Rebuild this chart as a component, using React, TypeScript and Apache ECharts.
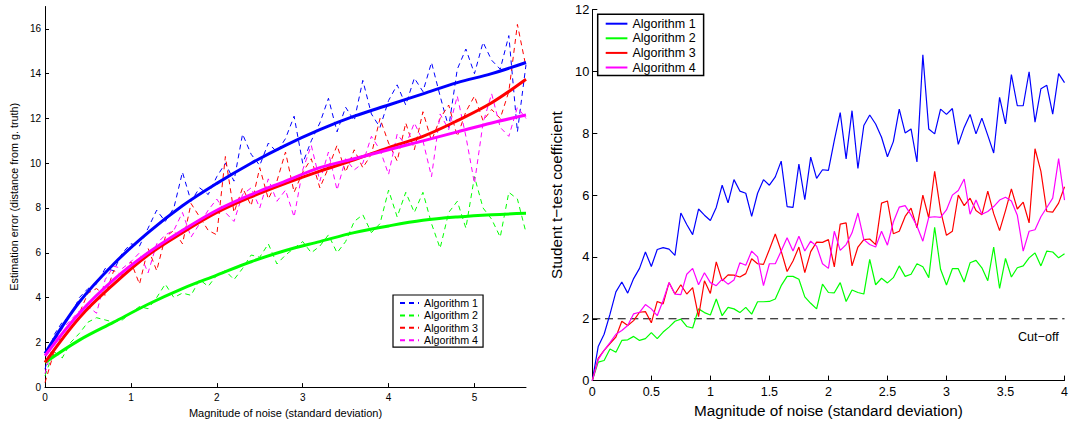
import React, { useEffect, useRef } from "react";
import * as echarts from "echarts";

const FONT = "'Liberation Sans', Arial, Helvetica, sans-serif";
const COLORS = ["#0000ff", "#00ff00", "#ff0000", "#ff00ff"];
const ALG_NAMES = ["Algorithm 1", "Algorithm 2", "Algorithm 3", "Algorithm 4"];

// ---------- Left panel: estimation error vs noise ----------
const LEFT_X_STEP = 0.1; // noise sampling of the raw (dashed) curves
const alg1Err = [0.8, 2.3, 2.9, 3.2, 4.0, 4.4, 4.6, 5.3, 5.2, 6.0, 6.4, 6.3, 7.1, 7.9, 7.4, 8.0, 9.6, 8.3, 8.9, 8.6, 9.4, 10.0, 9.2, 11.3, 10.4, 9.9, 10.9, 10.5, 11.1, 12.1, 10.0, 11.0, 11.8, 12.9, 11.4, 12.5, 11.9, 13.7, 12.2, 11.6, 12.8, 13.5, 12.6, 13.8, 13.2, 14.5, 13.0, 11.6, 14.2, 15.1, 14.0, 15.4, 14.6, 14.2, 15.7, 11.4, 14.4];
const alg2Err = [0.5, 1.6, 1.3, 2.0, 2.4, 2.9, 3.1, 3.0, 2.9, 3.0, 3.3, 3.6, 3.5, 4.0, 4.6, 4.0, 4.2, 4.1, 4.8, 4.5, 5.0, 5.2, 4.8, 5.3, 5.9, 5.8, 6.4, 5.5, 5.9, 6.2, 6.5, 6.0, 6.3, 6.8, 6.0, 6.5, 7.4, 7.7, 6.9, 7.3, 8.8, 7.6, 8.7, 7.8, 8.7, 7.3, 6.2, 7.8, 8.3, 7.1, 9.4, 8.0, 7.5, 6.7, 8.7, 8.4, 6.9];
const alg3Err = [0.2, 1.5, 2.4, 2.9, 3.3, 4.2, 4.4, 4.1, 5.2, 5.0, 5.6, 4.6, 6.2, 5.2, 6.7, 7.0, 6.4, 8.2, 7.6, 7.0, 6.8, 10.3, 7.8, 8.9, 8.1, 9.8, 8.4, 9.2, 10.5, 8.7, 9.6, 10.2, 8.9, 9.8, 10.8, 9.6, 10.6, 9.8, 10.4, 12.0, 10.9, 10.1, 11.8, 10.6, 12.3, 11.0, 12.0, 12.6, 11.2, 12.3, 13.0, 11.9, 12.4, 12.0, 13.2, 16.2, 14.3];
const alg4Err = [0.6, 2.0, 2.6, 3.0, 3.4, 3.6, 3.3, 4.8, 5.4, 5.3, 5.6, 6.0, 5.1, 6.4, 6.8, 7.0, 7.8, 6.7, 7.3, 7.9, 8.4, 7.8, 7.4, 8.6, 8.9, 8.0, 9.3, 8.3, 8.8, 7.6, 9.7, 10.8, 9.2, 10.5, 8.8, 10.2, 9.7, 10.0, 11.2, 10.6, 9.5, 11.3, 10.8, 11.8, 11.0, 9.4, 12.2, 11.5, 13.0, 11.2, 9.1, 11.8, 13.1, 11.6, 11.2, 12.5, 12.0];

const FIT_X_STEP = 0.4; // knots of the smooth fitted curves
const alg1Fit = [1.5, 3.8, 5.5, 6.9, 8.1, 9.1, 10.0, 10.8, 11.5, 12.1, 12.6, 13.1, 13.6, 14.0, 14.5];
const alg2Fit = [1.1, 2.1, 2.9, 3.7, 4.4, 5.0, 5.6, 6.1, 6.5, 6.9, 7.2, 7.45, 7.6, 7.7, 7.76];
const alg3Fit = [1.1, 3.1, 4.6, 5.9, 6.9, 7.8, 8.5, 9.1, 9.65, 10.15, 10.7, 11.2, 11.9, 12.7, 13.75];
const alg4Fit = [1.4, 3.3, 4.8, 6.0, 7.0, 7.9, 8.6, 9.2, 9.8, 10.2, 10.6, 11.0, 11.4, 11.8, 12.15];

const leftXTicks = [0, 1, 2, 3, 4, 5];
const leftYTicks = [0, 2, 4, 6, 8, 10, 12, 14, 16];

// ---------- Right panel: Student t-test coefficient ----------
const RIGHT_X_STEP = 0.05;
const alg1T = [0, 1.1, 1.5, 2.15, 2.87, 3.19, 2.83, 3.3, 3.63, 4.16, 3.69, 4.24, 4.3, 4.25, 4.05, 5.42, 5.05, 4.72, 5.55, 5.35, 5.18, 5.6, 6.32, 5.75, 6.5, 6.13, 6.06, 5.31, 6.06, 6.5, 6.32, 6.59, 7.1, 5.63, 5.6, 7.0, 5.85, 7.23, 6.54, 6.82, 6.8, 7.77, 8.67, 7.17, 8.73, 6.86, 8.25, 8.59, 8.3, 7.87, 7.24, 7.73, 8.78, 8.01, 8.14, 7.07, 10.54, 8.14, 7.98, 8.78, 8.61, 8.8, 7.64, 8.19, 8.61, 7.98, 8.49, 7.93, 7.36, 9.16, 8.3, 9.9, 8.89, 8.89, 9.99, 8.36, 9.44, 9.55, 8.62, 9.93, 9.64];
const alg2T = [0, 0.6, 0.65, 1.02, 0.92, 1.3, 1.32, 1.43, 1.3, 1.36, 1.55, 1.36, 1.57, 1.73, 1.92, 1.99, 1.75, 1.7, 2.32, 2.2, 2.12, 2.64, 2.1, 2.37, 2.32, 2.2, 2.37, 2.15, 2.55, 2.55, 2.56, 2.64, 3.07, 3.37, 3.37, 3.28, 2.71, 2.5, 2.32, 3.12, 2.85, 2.84, 3.17, 2.56, 2.93, 2.85, 2.8, 3.92, 3.1, 3.31, 3.16, 3.33, 3.71, 3.37, 3.44, 3.78, 3.68, 3.33, 4.96, 3.6, 3.09, 3.62, 3.62, 3.19, 3.81, 3.89, 3.65, 3.23, 4.32, 2.98, 3.95, 3.35, 3.65, 3.71, 3.97, 4.13, 3.71, 4.19, 4.16, 3.97, 4.1];
const alg3T = [0, 0.72, 0.98, 1.2, 1.41, 1.92, 1.78, 1.94, 2.21, 2.23, 1.87, 2.56, 2.48, 3.17, 2.8, 3.1, 2.8, 3.01, 2.07, 3.23, 2.82, 3.84, 3.23, 3.42, 3.41, 3.35, 3.46, 3.94, 3.78, 3.76, 4.24, 4.74, 4.19, 3.53, 3.87, 4.32, 3.49, 4.17, 4.48, 4.47, 4.56, 3.68, 5.06, 5.1, 3.71, 4.32, 4.56, 4.58, 4.4, 5.74, 5.81, 4.75, 4.83, 5.31, 5.58, 4.94, 6.0, 5.26, 6.77, 5.5, 4.7, 4.83, 6.0, 5.66, 5.9, 5.5, 5.36, 6.13, 5.4, 4.85, 5.5, 6.2, 5.55, 5.77, 5.1, 7.5, 6.77, 5.47, 5.45, 5.74, 6.27];
const alg4T = [0, 0.68, 0.98, 1.23, 1.5, 1.62, 1.78, 2.16, 2.21, 2.46, 2.32, 2.1, 2.59, 3.17, 2.8, 2.78, 3.44, 3.63, 3.1, 3.49, 3.17, 3.07, 3.28, 3.12, 3.25, 3.81, 3.73, 4.19, 4.0, 3.07, 3.78, 3.78, 4.19, 4.62, 4.19, 4.67, 4.19, 4.51, 4.35, 3.78, 3.63, 4.83, 4.21, 4.4, 4.78, 5.42, 4.56, 4.4, 4.32, 4.83, 4.38, 5.13, 5.61, 5.66, 5.36, 5.0, 4.51, 5.28, 5.3, 5.28, 5.52, 6.0, 6.15, 6.52, 5.38, 5.84, 5.38, 5.47, 5.63, 5.84, 5.93, 5.81, 5.35, 4.19, 4.83, 4.88, 5.3, 5.6, 5.9, 7.18, 5.84];
const cutoffX = [0, 4];
const CUTOFF = 2;
const CUTOFF_LABEL = "Cut\u2212off";

const rightXTicks = [0, 0.5, 1, 1.5, 2, 2.5, 3, 3.5, 4];
const rightYTicks = [0, 2, 4, 6, 8, 10, 12];

const toPairs = (vals: number[], step: number) =>
  vals.map((v, i) => [Math.round(i * step * 1000) / 1000, v]);

const axisCommon = () => ({
  axisLine: { show: true, lineStyle: { color: "#000", width: 1 } },
  splitLine: { show: false },
});

// hide the symbol that ECharts adds to line-series legend icons
const legendNoSymbol = { opacity: 0, color: "rgba(0,0,0,0)", borderWidth: 0 };

function buildLeft(): any {
  const errs = [alg1Err, alg2Err, alg3Err, alg4Err];
  const fits = [alg1Fit, alg2Fit, alg3Fit, alg4Fit];
  const dashed = errs.map((d, i) => ({
    name: ALG_NAMES[i],
    type: "line",
    data: toPairs(d, LEFT_X_STEP),
    symbol: "none",
    lineStyle: { color: COLORS[i], width: 1, type: [5, 4] },
    itemStyle: { color: COLORS[i] },
    z: 2,
  }));
  const smooth = fits.map((f, i) => ({
    name: ALG_NAMES[i] + " fit",
    type: "line",
    data: toPairs(f, FIT_X_STEP),
    symbol: "none",
    smooth: 0.35,
    lineStyle: { color: COLORS[i], width: 3 },
    itemStyle: { color: COLORS[i] },
    z: 3,
  }));
  return {
    animation: false,
    backgroundColor: "#fff",
    grid: { left: 41, top: 6.5, width: 485, height: 382.5, containLabel: false },
    legend: {
      data: ALG_NAMES,
      orient: "vertical",
      left: 393,
      top: 295,
      padding: [2, 5, 1, 6],
      itemWidth: 19,
      itemHeight: 2,
      itemGap: 0.4,
      borderColor: "#000",
      borderWidth: 1.2,
      borderRadius: 0,
      backgroundColor: "#fff",
      selectedMode: false,
      itemStyle: legendNoSymbol,
      textStyle: { fontSize: 10.7, fontFamily: FONT, color: "#000", lineHeight: 12 },
    },
    xAxis: {
      type: "value",
      min: 0,
      max: 5.6,
      interval: 1,
      ...axisCommon(),
      axisTick: { show: true, inside: true, length: 4, customValues: leftXTicks, lineStyle: { color: "#000" } },
      axisLabel: { customValues: leftXTicks, fontSize: 10, color: "#000", fontFamily: FONT, margin: 5 },
      name: "Magnitude of noise (standard deviation)",
      nameLocation: "middle",
      nameGap: 17,
      nameTextStyle: { color: "#000", fontFamily: FONT, fontSize: 11 },
    },
    yAxis: {
      type: "value",
      min: 0,
      max: 17,
      interval: 2,
      ...axisCommon(),
      axisTick: { show: true, inside: true, length: 4, customValues: leftYTicks, lineStyle: { color: "#000" } },
      axisLabel: { customValues: leftYTicks, fontSize: 10, color: "#000", fontFamily: FONT, margin: 4 },
      name: "Estimation error (distance from g. truth)",
      nameLocation: "middle",
      nameGap: 23,
      nameTextStyle: { color: "#000", fontFamily: FONT, fontSize: 10.8 },
    },
    series: [...dashed, ...smooth],
  };
}

function buildRight(): any {
  const ts = [alg1T, alg2T, alg3T, alg4T];
  const lines = ts.map((d, i) => ({
    name: ALG_NAMES[i],
    type: "line",
    data: toPairs(d, RIGHT_X_STEP),
    symbol: "none",
    lineStyle: { color: COLORS[i], width: 1.2 },
    itemStyle: { color: COLORS[i] },
    z: 3,
  }));
  const cutoff = {
    name: CUTOFF_LABEL,
    type: "line",
    data: cutoffX.map((x) => [x, CUTOFF]),
    symbol: "none",
    lineStyle: { color: "#000", width: 1, type: [8, 4.7] },
    z: 2,
  };
  return {
    animation: false,
    backgroundColor: "#fff",
    grid: { left: 52.3, top: 9.6, width: 475.4, height: 374.4, containLabel: false },
    legend: {
      data: ALG_NAMES,
      orient: "vertical",
      left: 57.7,
      top: 14.3,
      padding: [2.4, 8, 1, 7],
      itemWidth: 21.7,
      itemHeight: 2,
      itemGap: 0.6,
      borderColor: "#000",
      borderWidth: 1.5,
      borderRadius: 0,
      backgroundColor: "#fff",
      selectedMode: false,
      itemStyle: legendNoSymbol,
      textStyle: { fontSize: 12.5, fontFamily: FONT, color: "#000", lineHeight: 14 },
    },
    xAxis: {
      type: "value",
      min: 0,
      max: 4,
      interval: 0.5,
      ...axisCommon(),
      axisTick: { show: true, inside: true, length: 5, customValues: rightXTicks, lineStyle: { color: "#000" } },
      axisLabel: { customValues: rightXTicks, fontSize: 12.5, color: "#000", fontFamily: FONT, margin: 4.5 },
      name: "Magnitude of noise (standard deviation)",
      nameLocation: "middle",
      nameGap: 19,
      nameTextStyle: { color: "#000", fontFamily: FONT, fontSize: 15.3 },
    },
    yAxis: {
      type: "value",
      min: 0,
      max: 12,
      interval: 2,
      ...axisCommon(),
      axisTick: { show: true, inside: true, length: 5, customValues: rightYTicks, lineStyle: { color: "#000" } },
      axisLabel: { customValues: rightYTicks, fontSize: 12.8, color: "#000", fontFamily: FONT, margin: 3 },
      name: "Student t\u2212test coefficient",
      nameLocation: "middle",
      nameGap: 22.8,
      nameTextStyle: { color: "#000", fontFamily: FONT, fontSize: 15.3 },
    },
    graphic: [
      {
        type: "text",
        x: 478,
        y: 337.3,
        style: {
          text: CUTOFF_LABEL,
          fontSize: 12.6,
          fontFamily: FONT,
          fill: "#000",
          verticalAlign: "middle",
          align: "left",
        },
      },
    ],
    series: [cutoff, ...lines],
  };
}

export default function App() {
  const leftRef = useRef<HTMLDivElement>(null);
  const rightRef = useRef<HTMLDivElement>(null);
  useEffect(() => {
    const l = echarts.init(leftRef.current!, undefined, { renderer: "svg" });
    const r = echarts.init(rightRef.current!, undefined, { renderer: "svg" });
    l.setOption(buildLeft());
    r.setOption(buildRight());
    return () => {
      l.dispose();
      r.dispose();
    };
  }, []);
  return (
    <div style={{ position: "absolute", left: 0, top: 0, width: 1071, height: 423, background: "#fff" }}>
      <div ref={leftRef} style={{ position: "absolute", left: 0, top: 0, width: 540, height: 423 }} />
      <div ref={rightRef} style={{ position: "absolute", left: 540, top: 0, width: 531, height: 423 }} />
    </div>
  );
}
